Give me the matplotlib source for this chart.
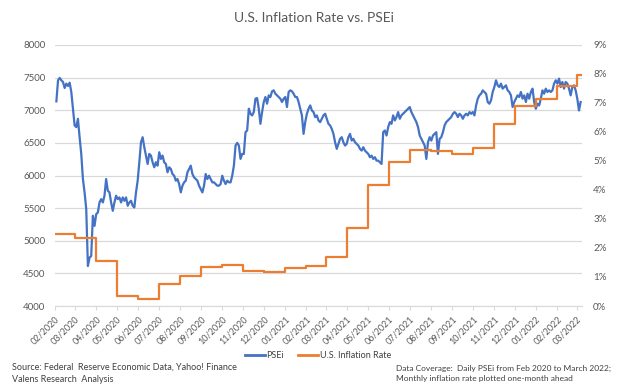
import numpy as np
import pandas as pd
import matplotlib
matplotlib.use("Agg")
import matplotlib.pyplot as plt
from matplotlib.ticker import FuncFormatter
from matplotlib.lines import Line2D

plt.rcParams['font.family'] = ['Lato', 'DejaVu Sans']

# ---------------- data ----------------
psei_start = "2020-02-03"
psei_end = "2022-03-07"
psei_values = [
    7136, 7459, 7495, 7459, 7433, 7341, 7408, 7372, 7423, 7280, 7023, 6767, 6741, 6869, 6587, 6331,
    5946, 5741, 5485, 4613, 4741, 4767, 5382, 5228, 5408, 5433, 5587, 5638, 5587, 5690, 5946, 5767,
    5741, 5587, 5459, 5587, 5690, 5638, 5664, 5587, 5664, 5613, 5664, 5536, 5587, 5613, 5536, 5510,
    5741, 5921, 6203, 6510, 6587, 6433, 6305, 6177, 6331, 6305, 6203, 6126, 6203, 6151, 6356, 6254,
    6305, 6203, 6177, 6049, 6126, 6100, 6023, 5997, 5921, 5946, 5869, 5741, 5844, 5895,
    5921, 6049, 6100, 6151, 6023, 5972, 5946, 5921, 5844, 5792, 5741, 5844, 6023, 5946, 5997, 5946,
    5895, 5895, 5869, 5844, 5844, 5869, 5997, 5921, 5869, 5921, 5895, 5895, 5997, 6151, 6459, 6500,
    6459, 6254, 6331, 6331, 6664, 6690, 7023, 6946, 6921, 6972, 7177, 7187, 7023, 6792, 6972, 7126,
    7203, 7100, 7228, 7203, 7290, 7305, 7254, 7228, 7203, 7177, 7126, 7177, 7203, 7049, 7280, 7305,
    7290, 7254, 7203, 7203, 7126, 7023, 6921, 6638, 6818, 6946, 7023, 7074, 6997, 6972, 6895, 6921,
    6844,
    6818, 6869, 6921, 6946, 6869, 6792, 6767, 6715, 6638, 6510, 6408, 6485, 6562, 6587, 6510, 6459,
    6485, 6587, 6638, 6536, 6562, 6510, 6485, 6459, 6408, 6382, 6433, 6382, 6356, 6331, 6280, 6305,
    6254, 6280, 6228, 6228, 6203, 6177, 6664, 6690, 6613, 6741, 6818, 6792, 6921, 6844, 6895, 6972,
    6869, 6921, 6946, 6972, 6997, 7023, 7049, 6972, 6921, 6869, 6818, 6741, 6613, 6562, 6510, 6459,
    6254, 6510, 6587, 6536, 6613, 6638, 6664, 6331, 6562, 6587, 6664, 6767, 6818, 6844, 6869, 6895,
    6946,
    6972, 6946, 6895, 6946, 6921, 6869, 6921, 6946, 6921, 6972, 6946, 6972, 6921, 7074, 7177, 7228,
    7254, 7305, 7280, 7254, 7126, 7100, 7151, 7280, 7356, 7459, 7382, 7356, 7408, 7331, 7356, 7382,
    7305, 7280, 7228, 7049, 7126, 7177, 7228, 7203, 7280, 7177, 7228, 7126, 7254, 7177, 7280, 7331,
    7126, 7023, 7100, 7074, 7177, 7305, 7254, 7331, 7280, 7305, 7280, 7305, 7408, 7459, 7408, 7485,
    7356, 7433, 7331, 7433, 7408, 7331, 7228, 7356, 7382, 7305, 7177, 6997, 7126,
]

infl_months = [
    "2020-02", "2020-03", "2020-04", "2020-05", "2020-06", "2020-07", "2020-08", "2020-09",
    "2020-10", "2020-11", "2020-12", "2021-01", "2021-02", "2021-03", "2021-04", "2021-05",
    "2021-06", "2021-07", "2021-08", "2021-09", "2021-10", "2021-11", "2021-12", "2022-01",
    "2022-02", "2022-03",
]
infl_values = [
    2.50, 2.35, 1.55, 0.35, 0.25, 0.75, 1.05, 1.35,
    1.42, 1.22, 1.18, 1.30, 1.38, 1.70, 2.68, 4.18,
    4.98, 5.38, 5.33, 5.23, 5.44, 6.29, 6.88, 7.13,
    7.60, 7.96,
]

tick_months = pd.date_range("2020-02-01", "2022-03-01", freq="MS")
x_min, x_max = "2020-02-01", "2022-03-09"

# ---------------- figure ----------------
W, H = 628, 391
fig = plt.figure(figsize=(W / 100, H / 100), dpi=100)
ax = fig.add_axes([55 / W, 1 - 306 / H, (582 - 55) / W, (306 - 45) / H])
ax2 = ax.twinx()

blue = "#4472C4"
orange = "#ED7D31"
grid_c = "#D9D9D9"
txt_c = "#595959"
note_c = "#404040"

psei_dates = pd.date_range(psei_start, psei_end, periods=len(psei_values))
ax.plot(psei_dates, psei_values, color=blue, lw=1.6, zorder=3, solid_joinstyle="round")

infl_dates = list(pd.to_datetime(infl_months)) + [psei_dates[-1]]
infl_plot = infl_values + [infl_values[-1]]
ax2.plot(infl_dates, infl_plot, color=orange, lw=1.6, drawstyle="steps-post", zorder=3)

ax.set_ylim(4000, 8000)
ax.set_yticks(np.arange(4000, 8001, 500))
ax2.set_ylim(0, 9)
ax2.set_yticks(np.arange(0, 10, 1))
ax2.yaxis.set_major_formatter(FuncFormatter(lambda v, p: f"{v:.0f}%"))

ax.set_xlim(pd.Timestamp(x_min), pd.Timestamp(x_max))
ax.set_xticks(tick_months)
ax.set_xticklabels([d.strftime("%m/%Y") for d in tick_months], rotation=45, ha="right",
                   rotation_mode="anchor", fontsize=6.5, color=txt_c)

ax.grid(axis="y", color=grid_c, lw=0.9)
ax.set_axisbelow(True)
for a in (ax, ax2):
    for s in ("top", "left", "right"):
        a.spines[s].set_visible(False)
    a.spines["bottom"].set_color(grid_c)
ax2.spines["bottom"].set_visible(False)

ax.tick_params(axis="x", length=3, color=grid_c, pad=3)
ax.tick_params(axis="y", length=0, labelsize=7, labelcolor=txt_c, pad=7)
ax2.tick_params(axis="y", length=0, labelsize=7, labelcolor=txt_c, pad=8)

fig.text(0.5, 1 - 18 / H, "U.S. Inflation Rate vs. PSEi", ha="center", va="center",
         fontsize=10, color=txt_c)

handles = [Line2D([], [], color=blue, lw=2), Line2D([], [], color=orange, lw=2)]
fig.legend(handles, ["PSEi", "U.S. Inflation Rate"], loc="center", bbox_to_anchor=(318 / W, 1 - 356 / H),
           ncol=2, frameon=False, fontsize=6.5, labelcolor=note_c, handlelength=2.2,
           handletextpad=0.2, columnspacing=1.6)

fig.text(12 / W, 1 - 367 / H, "Source: Federal  Reserve Economic Data, Yahoo! Finance",
         ha="left", va="center", fontsize=6.5, color=note_c)
fig.text(12 / W, 1 - 379 / H, "Valens Research  Analysis",
         ha="left", va="center", fontsize=6.5, color=note_c)
fig.text(396 / W, 1 - 368 / H, "Data Coverage:  Daily PSEi from Feb 2020 to March 2022;",
         ha="left", va="center", fontsize=6.0, color=note_c)
fig.text(396 / W, 1 - 378.5 / H, "Monthly inflation rate plotted one-month ahead",
         ha="left", va="center", fontsize=6.0, color=note_c)

fig.savefig("out.png", dpi=100, facecolor="white")
